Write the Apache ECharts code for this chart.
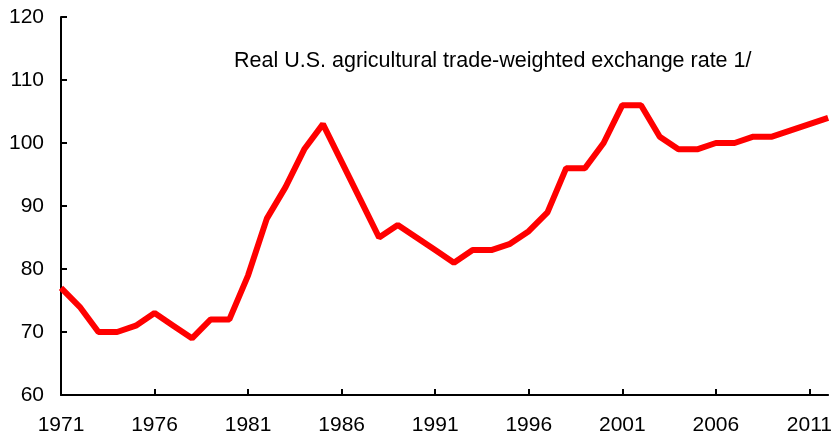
<!DOCTYPE html>
<html>
<head>
<meta charset="utf-8">
<script src="https://cdn.jsdelivr.net/npm/echarts@6/dist/echarts.min.js"></script>
<style>
  html, body { margin: 0; padding: 0; background: #fff; }
  #chart { width: 835px; height: 441px; }
</style>
</head>
<body>
<div id="chart"></div>
<script>
var years = [];
for (var y = 1971; y <= 2012; y++) years.push(String(y));

var rate = [77, 74, 70, 70, 71, 73, 71, 69, 72, 72,
            79, 88, 93, 99, 103, 97, 91, 85, 87, 85,
            83, 81, 83, 83, 84, 86, 89, 96, 96, 100,
            106, 106, 101, 99, 99, 100, 100, 101, 101, 102,
            103, 104];

var titleText = 'Real U.S. agricultural trade-weighted exchange rate 1/';

var myChart = echarts.init(document.getElementById('chart'));

var option = {
    animation: false,
    title: {
        text: titleText,
        left: 229,
        top: 45,
        textStyle: {
            fontFamily: 'Liberation Sans, Arial, sans-serif',
            fontSize: 21.5,
            fontWeight: 'normal',
            color: '#000'
        }
    },
    grid: {
        left: 61,
        right: 5,
        top: 17,
        bottom: 46
    },
    xAxis: {
        type: 'category',
        data: years,
        boundaryGap: false,
        axisLine: { lineStyle: { color: '#000', width: 2 } },
        axisTick: { inside: true, interval: 4, length: 6, lineStyle: { color: '#000', width: 2 } },
        axisLabel: {
            interval: 4,
            margin: 20,
            color: '#000',
            fontSize: 21,
            fontFamily: 'Liberation Sans, Arial, sans-serif'
        },
        splitLine: { show: false }
    },
    yAxis: {
        type: 'value',
        min: 60,
        max: 120,
        interval: 10,
        axisLine: { show: true, lineStyle: { color: '#000', width: 2 } },
        axisTick: { show: true, inside: true, length: 6, lineStyle: { color: '#000', width: 2 } },
        axisLabel: {
            margin: 17,
            color: '#000',
            fontSize: 21,
            fontFamily: 'Liberation Sans, Arial, sans-serif'
        },
        splitLine: { show: false }
    },
    series: [
        {
            name: 'rate',
            type: 'line',
            data: rate,
            symbol: 'none',
            lineStyle: { color: '#ff0000', width: 6 },
            z: 1
        }
    ]
};

myChart.setOption(option);
</script>
</body>
</html>
